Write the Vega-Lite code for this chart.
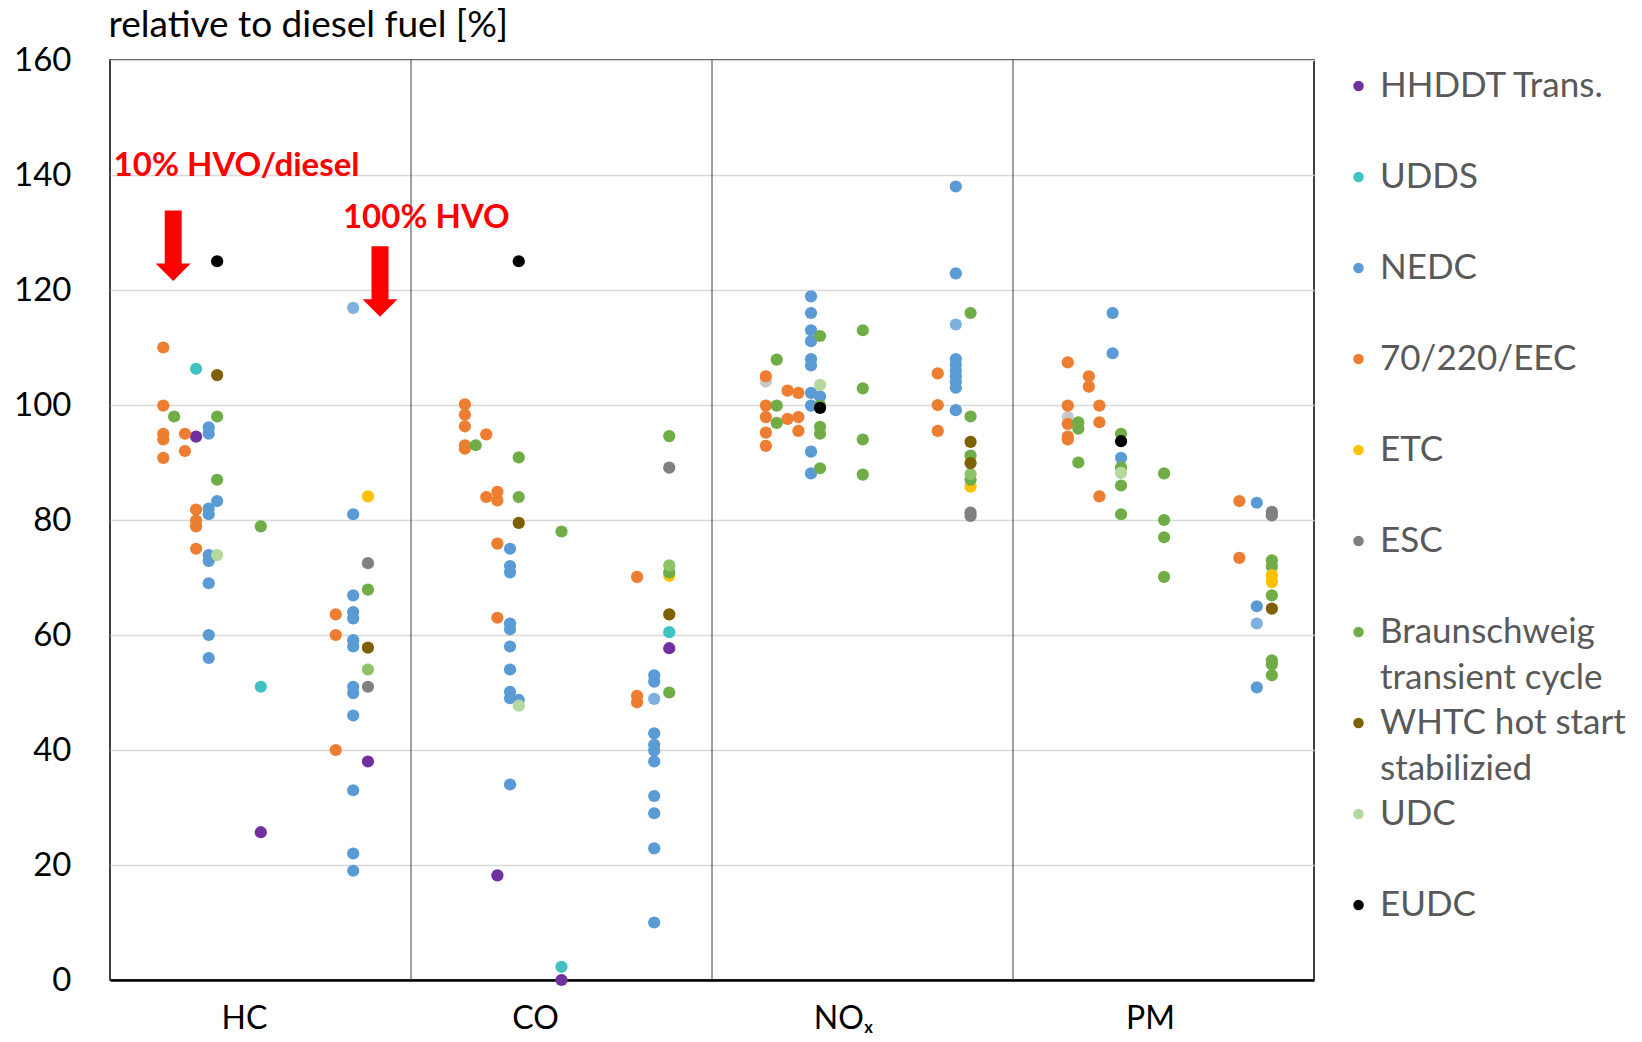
{
  "$schema": "https://vega.github.io/schema/vega-lite/v6.json",
  "autosize": {"type": "none"},
  "width": 1204,
  "height": 920,
  "padding": {"left": 110, "top": 60, "right": 328, "bottom": 62},
  "background": "white",
  "config": {
    "view": {"stroke": "black", "strokeWidth": 1.5},
    "font": "Lato"
  },
  "layer": [
    {
      "data": {"values": [{"x": 1}, {"x": 2}, {"x": 3}]},
      "mark": {"type": "rule", "color": "#404040", "strokeWidth": 1},
      "encoding": {"x": {"field": "x", "type": "quantitative"}}
    },
    {
      "data": {"values": [
        {"x": 2.179, "y": 104.1, "s": "other"},
        {"x": 3.182, "y": 97.9, "s": "other"},
        {"x": 0.286, "y": 94.5, "s": "HHDDT Trans."},
        {"x": 0.501, "y": 25.7, "s": "HHDDT Trans."},
        {"x": 0.857, "y": 38.0, "s": "HHDDT Trans."},
        {"x": 1.287, "y": 18.2, "s": "HHDDT Trans."},
        {"x": 1.5, "y": 0.0, "s": "HHDDT Trans."},
        {"x": 1.858, "y": 57.7, "s": "HHDDT Trans."},
        {"x": 0.286, "y": 106.3, "s": "UDDS"},
        {"x": 0.501, "y": 51.0, "s": "UDDS"},
        {"x": 1.5, "y": 2.3, "s": "UDDS"},
        {"x": 1.858, "y": 60.5, "s": "UDDS"},
        {"x": 0.328, "y": 96.1, "s": "NEDC"},
        {"x": 0.328, "y": 95.0, "s": "NEDC"},
        {"x": 0.328, "y": 82.0, "s": "NEDC"},
        {"x": 0.328, "y": 81.0, "s": "NEDC"},
        {"x": 0.328, "y": 73.9, "s": "NEDC"},
        {"x": 0.328, "y": 72.9, "s": "NEDC"},
        {"x": 0.328, "y": 69.0, "s": "NEDC"},
        {"x": 0.328, "y": 60.0, "s": "NEDC"},
        {"x": 0.328, "y": 56.0, "s": "NEDC"},
        {"x": 0.356, "y": 83.3, "s": "NEDC"},
        {"x": 0.808, "y": 81.0, "s": "NEDC"},
        {"x": 0.808, "y": 66.9, "s": "NEDC"},
        {"x": 0.808, "y": 64.0, "s": "NEDC"},
        {"x": 0.808, "y": 62.9, "s": "NEDC"},
        {"x": 0.808, "y": 59.1, "s": "NEDC"},
        {"x": 0.808, "y": 58.0, "s": "NEDC"},
        {"x": 0.808, "y": 51.0, "s": "NEDC"},
        {"x": 0.808, "y": 49.9, "s": "NEDC"},
        {"x": 0.808, "y": 46.0, "s": "NEDC"},
        {"x": 0.808, "y": 33.0, "s": "NEDC"},
        {"x": 0.808, "y": 22.0, "s": "NEDC"},
        {"x": 0.808, "y": 19.0, "s": "NEDC"},
        {"x": 1.329, "y": 75.0, "s": "NEDC"},
        {"x": 1.329, "y": 72.0, "s": "NEDC"},
        {"x": 1.329, "y": 70.9, "s": "NEDC"},
        {"x": 1.329, "y": 62.0, "s": "NEDC"},
        {"x": 1.329, "y": 61.0, "s": "NEDC"},
        {"x": 1.329, "y": 58.0, "s": "NEDC"},
        {"x": 1.329, "y": 54.0, "s": "NEDC"},
        {"x": 1.329, "y": 50.1, "s": "NEDC"},
        {"x": 1.329, "y": 49.0, "s": "NEDC"},
        {"x": 1.329, "y": 34.0, "s": "NEDC"},
        {"x": 1.358, "y": 48.7, "s": "NEDC"},
        {"x": 1.808, "y": 53.0, "s": "NEDC"},
        {"x": 1.808, "y": 51.9, "s": "NEDC"},
        {"x": 1.808, "y": 42.9, "s": "NEDC"},
        {"x": 1.808, "y": 40.9, "s": "NEDC"},
        {"x": 1.808, "y": 39.9, "s": "NEDC"},
        {"x": 1.808, "y": 38.0, "s": "NEDC"},
        {"x": 1.808, "y": 32.0, "s": "NEDC"},
        {"x": 1.808, "y": 29.0, "s": "NEDC"},
        {"x": 1.808, "y": 22.9, "s": "NEDC"},
        {"x": 1.808, "y": 10.0, "s": "NEDC"},
        {"x": 2.329, "y": 118.9, "s": "NEDC"},
        {"x": 2.329, "y": 116.0, "s": "NEDC"},
        {"x": 2.329, "y": 113.0, "s": "NEDC"},
        {"x": 2.329, "y": 111.1, "s": "NEDC"},
        {"x": 2.329, "y": 108.0, "s": "NEDC"},
        {"x": 2.329, "y": 106.9, "s": "NEDC"},
        {"x": 2.329, "y": 102.1, "s": "NEDC"},
        {"x": 2.329, "y": 99.9, "s": "NEDC"},
        {"x": 2.329, "y": 91.9, "s": "NEDC"},
        {"x": 2.329, "y": 88.1, "s": "NEDC"},
        {"x": 2.359, "y": 101.5, "s": "NEDC"},
        {"x": 2.81, "y": 138.0, "s": "NEDC"},
        {"x": 2.81, "y": 122.9, "s": "NEDC"},
        {"x": 2.81, "y": 108.0, "s": "NEDC"},
        {"x": 2.81, "y": 107.0, "s": "NEDC"},
        {"x": 2.81, "y": 106.0, "s": "NEDC"},
        {"x": 2.81, "y": 105.0, "s": "NEDC"},
        {"x": 2.81, "y": 104.0, "s": "NEDC"},
        {"x": 2.81, "y": 103.0, "s": "NEDC"},
        {"x": 2.81, "y": 99.1, "s": "NEDC"},
        {"x": 3.331, "y": 116.0, "s": "NEDC"},
        {"x": 3.331, "y": 109.0, "s": "NEDC"},
        {"x": 3.359, "y": 90.8, "s": "NEDC"},
        {"x": 3.81, "y": 83.0, "s": "NEDC"},
        {"x": 3.81, "y": 65.0, "s": "NEDC"},
        {"x": 3.81, "y": 50.9, "s": "NEDC"},
        {"x": 0.808, "y": 116.9, "s": "NEDC-2"},
        {"x": 1.808, "y": 48.9, "s": "NEDC-2"},
        {"x": 2.81, "y": 114.0, "s": "NEDC-2"},
        {"x": 3.81, "y": 62.0, "s": "NEDC-2"},
        {"x": 0.177, "y": 110.0, "s": "70/220/EEC"},
        {"x": 0.177, "y": 99.9, "s": "70/220/EEC"},
        {"x": 0.177, "y": 95.0, "s": "70/220/EEC"},
        {"x": 0.177, "y": 94.0, "s": "70/220/EEC"},
        {"x": 0.177, "y": 90.8, "s": "70/220/EEC"},
        {"x": 0.249, "y": 95.0, "s": "70/220/EEC"},
        {"x": 0.249, "y": 92.0, "s": "70/220/EEC"},
        {"x": 0.286, "y": 81.8, "s": "70/220/EEC"},
        {"x": 0.286, "y": 79.9, "s": "70/220/EEC"},
        {"x": 0.286, "y": 78.9, "s": "70/220/EEC"},
        {"x": 0.286, "y": 75.0, "s": "70/220/EEC"},
        {"x": 0.75, "y": 63.6, "s": "70/220/EEC"},
        {"x": 0.75, "y": 60.0, "s": "70/220/EEC"},
        {"x": 0.75, "y": 40.0, "s": "70/220/EEC"},
        {"x": 1.179, "y": 100.1, "s": "70/220/EEC"},
        {"x": 1.179, "y": 98.3, "s": "70/220/EEC"},
        {"x": 1.179, "y": 96.3, "s": "70/220/EEC"},
        {"x": 1.179, "y": 93.0, "s": "70/220/EEC"},
        {"x": 1.179, "y": 92.4, "s": "70/220/EEC"},
        {"x": 1.25, "y": 94.9, "s": "70/220/EEC"},
        {"x": 1.25, "y": 84.0, "s": "70/220/EEC"},
        {"x": 1.287, "y": 84.9, "s": "70/220/EEC"},
        {"x": 1.287, "y": 83.4, "s": "70/220/EEC"},
        {"x": 1.287, "y": 75.9, "s": "70/220/EEC"},
        {"x": 1.287, "y": 63.0, "s": "70/220/EEC"},
        {"x": 1.751, "y": 70.1, "s": "70/220/EEC"},
        {"x": 1.751, "y": 49.4, "s": "70/220/EEC"},
        {"x": 1.751, "y": 48.3, "s": "70/220/EEC"},
        {"x": 2.179, "y": 105.0, "s": "70/220/EEC"},
        {"x": 2.179, "y": 99.9, "s": "70/220/EEC"},
        {"x": 2.179, "y": 97.9, "s": "70/220/EEC"},
        {"x": 2.179, "y": 95.2, "s": "70/220/EEC"},
        {"x": 2.179, "y": 92.9, "s": "70/220/EEC"},
        {"x": 2.251, "y": 102.5, "s": "70/220/EEC"},
        {"x": 2.251, "y": 97.6, "s": "70/220/EEC"},
        {"x": 2.287, "y": 102.1, "s": "70/220/EEC"},
        {"x": 2.287, "y": 97.9, "s": "70/220/EEC"},
        {"x": 2.287, "y": 95.5, "s": "70/220/EEC"},
        {"x": 2.75, "y": 105.5, "s": "70/220/EEC"},
        {"x": 2.75, "y": 100.0, "s": "70/220/EEC"},
        {"x": 2.75, "y": 95.5, "s": "70/220/EEC"},
        {"x": 3.182, "y": 107.4, "s": "70/220/EEC"},
        {"x": 3.182, "y": 99.9, "s": "70/220/EEC"},
        {"x": 3.182, "y": 96.7, "s": "70/220/EEC"},
        {"x": 3.182, "y": 94.5, "s": "70/220/EEC"},
        {"x": 3.182, "y": 94.0, "s": "70/220/EEC"},
        {"x": 3.252, "y": 105.0, "s": "70/220/EEC"},
        {"x": 3.252, "y": 103.2, "s": "70/220/EEC"},
        {"x": 3.287, "y": 99.9, "s": "70/220/EEC"},
        {"x": 3.287, "y": 97.0, "s": "70/220/EEC"},
        {"x": 3.287, "y": 84.1, "s": "70/220/EEC"},
        {"x": 3.752, "y": 83.3, "s": "70/220/EEC"},
        {"x": 3.752, "y": 73.4, "s": "70/220/EEC"},
        {"x": 0.857, "y": 84.1, "s": "ETC"},
        {"x": 1.858, "y": 70.3, "s": "ETC"},
        {"x": 2.859, "y": 85.8, "s": "ETC"},
        {"x": 0.857, "y": 72.5, "s": "ESC"},
        {"x": 0.857, "y": 51.0, "s": "ESC"},
        {"x": 1.858, "y": 89.1, "s": "ESC"},
        {"x": 2.859, "y": 81.3, "s": "ESC"},
        {"x": 2.859, "y": 80.7, "s": "ESC"},
        {"x": 3.86, "y": 81.4, "s": "ESC"},
        {"x": 3.86, "y": 80.8, "s": "ESC"},
        {"x": 0.213, "y": 98.0, "s": "Braunschweig transient cycle"},
        {"x": 0.356, "y": 98.0, "s": "Braunschweig transient cycle"},
        {"x": 0.356, "y": 87.0, "s": "Braunschweig transient cycle"},
        {"x": 0.501, "y": 78.9, "s": "Braunschweig transient cycle"},
        {"x": 0.857, "y": 67.9, "s": "Braunschweig transient cycle"},
        {"x": 1.215, "y": 93.0, "s": "Braunschweig transient cycle"},
        {"x": 1.358, "y": 90.9, "s": "Braunschweig transient cycle"},
        {"x": 1.358, "y": 84.0, "s": "Braunschweig transient cycle"},
        {"x": 1.5, "y": 78.0, "s": "Braunschweig transient cycle"},
        {"x": 1.858, "y": 94.6, "s": "Braunschweig transient cycle"},
        {"x": 1.858, "y": 70.9, "s": "Braunschweig transient cycle"},
        {"x": 1.858, "y": 50.0, "s": "Braunschweig transient cycle"},
        {"x": 2.215, "y": 107.9, "s": "Braunschweig transient cycle"},
        {"x": 2.215, "y": 99.9, "s": "Braunschweig transient cycle"},
        {"x": 2.215, "y": 96.9, "s": "Braunschweig transient cycle"},
        {"x": 2.359, "y": 112.0, "s": "Braunschweig transient cycle"},
        {"x": 2.359, "y": 99.9, "s": "Braunschweig transient cycle"},
        {"x": 2.359, "y": 96.2, "s": "Braunschweig transient cycle"},
        {"x": 2.359, "y": 95.0, "s": "Braunschweig transient cycle"},
        {"x": 2.359, "y": 89.0, "s": "Braunschweig transient cycle"},
        {"x": 2.501, "y": 113.0, "s": "Braunschweig transient cycle"},
        {"x": 2.501, "y": 102.9, "s": "Braunschweig transient cycle"},
        {"x": 2.501, "y": 94.0, "s": "Braunschweig transient cycle"},
        {"x": 2.501, "y": 87.9, "s": "Braunschweig transient cycle"},
        {"x": 2.859, "y": 116.0, "s": "Braunschweig transient cycle"},
        {"x": 2.859, "y": 98.0, "s": "Braunschweig transient cycle"},
        {"x": 2.859, "y": 91.2, "s": "Braunschweig transient cycle"},
        {"x": 2.859, "y": 87.0, "s": "Braunschweig transient cycle"},
        {"x": 3.217, "y": 97.0, "s": "Braunschweig transient cycle"},
        {"x": 3.217, "y": 95.9, "s": "Braunschweig transient cycle"},
        {"x": 3.217, "y": 90.0, "s": "Braunschweig transient cycle"},
        {"x": 3.359, "y": 95.0, "s": "Braunschweig transient cycle"},
        {"x": 3.359, "y": 89.1, "s": "Braunschweig transient cycle"},
        {"x": 3.359, "y": 86.0, "s": "Braunschweig transient cycle"},
        {"x": 3.359, "y": 81.0, "s": "Braunschweig transient cycle"},
        {"x": 3.502, "y": 88.1, "s": "Braunschweig transient cycle"},
        {"x": 3.502, "y": 80.0, "s": "Braunschweig transient cycle"},
        {"x": 3.502, "y": 77.0, "s": "Braunschweig transient cycle"},
        {"x": 3.502, "y": 70.1, "s": "Braunschweig transient cycle"},
        {"x": 3.86, "y": 73.0, "s": "Braunschweig transient cycle"},
        {"x": 3.86, "y": 71.9, "s": "Braunschweig transient cycle"},
        {"x": 3.86, "y": 66.9, "s": "Braunschweig transient cycle"},
        {"x": 3.86, "y": 55.6, "s": "Braunschweig transient cycle"},
        {"x": 3.86, "y": 54.9, "s": "Braunschweig transient cycle"},
        {"x": 3.86, "y": 53.0, "s": "Braunschweig transient cycle"},
        {"x": 3.86, "y": 70.4, "s": "ETC"},
        {"x": 3.86, "y": 69.2, "s": "ETC"},
        {"x": 0.857, "y": 54.0, "s": "Braunschweig-2"},
        {"x": 1.858, "y": 72.1, "s": "Braunschweig-2"},
        {"x": 2.859, "y": 88.0, "s": "Braunschweig-2"},
        {"x": 0.356, "y": 105.2, "s": "WHTC hot start stabilizied"},
        {"x": 0.857, "y": 57.8, "s": "WHTC hot start stabilizied"},
        {"x": 1.358, "y": 79.5, "s": "WHTC hot start stabilizied"},
        {"x": 1.858, "y": 63.6, "s": "WHTC hot start stabilizied"},
        {"x": 2.859, "y": 93.6, "s": "WHTC hot start stabilizied"},
        {"x": 2.859, "y": 89.9, "s": "WHTC hot start stabilizied"},
        {"x": 3.86, "y": 64.6, "s": "WHTC hot start stabilizied"},
        {"x": 0.356, "y": 73.9, "s": "UDC"},
        {"x": 1.358, "y": 47.7, "s": "UDC"},
        {"x": 2.359, "y": 103.5, "s": "UDC"},
        {"x": 3.359, "y": 88.2, "s": "UDC"},
        {"x": 0.356, "y": 125.0, "s": "EUDC"},
        {"x": 1.358, "y": 125.0, "s": "EUDC"},
        {"x": 2.359, "y": 99.5, "s": "EUDC"},
        {"x": 3.359, "y": 93.7, "s": "EUDC"}
      ]},
      "mark": {"type": "point", "filled": true, "opacity": 1, "size": 150, "strokeWidth": 0},
      "encoding": {
        "x": {
          "field": "x", "type": "quantitative",
          "scale": {"domain": [0, 4], "nice": false, "zero": false},
          "axis": {
            "values": [0.445, 1.412, 2.435, 3.455],
            "labelExpr": "datum.value < 1 ? 'HC' : datum.value < 2 ? 'CO' : datum.value < 3 ? 'NOₓ' : 'PM'",
            "grid": false, "ticks": false, "tickSize": 0,
            "domain": true, "domainColor": "black", "domainWidth": 2.5,
            "title": null,
            "labelFont": "Lato", "labelFontSize": 32, "labelColor": "black",
            "labelPadding": 23, "labelFlush": false, "labelOverlap": false
          }
        },
        "y": {
          "field": "y", "type": "quantitative",
          "scale": {"domain": [0, 160], "nice": false},
          "axis": {
            "values": [0, 20, 40, 60, 80, 100, 120, 140, 160],
            "grid": true, "gridColor": "#d9d9d9", "gridWidth": 1.5,
            "ticks": false, "tickSize": 0, "domain": false,
            "labelFont": "Lato", "labelFontSize": 33, "labelColor": "black",
            "labelPadding": 39,
            "title": "relative to diesel fuel [%]",
            "titleAngle": 0, "titleAlign": "left", "titleBaseline": "alphabetic",
            "titleX": -2, "titleY": -24,
            "titleFont": "Lato", "titleFontSize": 37, "titleFontWeight": "normal", "titleColor": "black"
          }
        },
        "color": {
          "field": "s", "type": "nominal",
          "scale": {
            "domain": ["HHDDT Trans.", "UDDS", "NEDC", "70/220/EEC", "ETC", "ESC", "Braunschweig transient cycle", "WHTC hot start stabilizied", "UDC", "EUDC", "NEDC-2", "Braunschweig-2", "other"],
            "range": ["#7030a0", "#40c2c2", "#5b9bd5", "#ed7d31", "#ffc000", "#808080", "#70ad47", "#7f6000", "#b5d99c", "#000000", "#7fb1e0", "#8dc26b", "#c8c8c8"]
          },
          "legend": {
            "values": ["HHDDT Trans.", "UDDS", "NEDC", "70/220/EEC", "ETC", "ESC", "Braunschweig transient cycle", "WHTC hot start stabilizied", "UDC", "EUDC"],
            "orient": "none", "legendX": 1231, "legendY": 8.5,
            "title": null, "padding": 0,
            "symbolType": "circle", "symbolSize": 110, "symbolStrokeWidth": 0, "symbolOpacity": 1,
            "labelFont": "Lato", "labelFontSize": 35, "labelColor": "#595959",
            "labelOffset": 4, "labelLimit": 400, "labelBaseline": "top",
            "rowPadding": 10,
            "labelExpr": "datum.label == 'Braunschweig transient cycle' ? ['Braunschweig', 'transient cycle'] : datum.label == 'WHTC hot start stabilizied' ? ['WHTC hot start', 'stabilizied'] : [datum.label, ' ']",
            "encode": {"labels": {"update": {"dy": {"value": -17.5}, "lineHeight": {"value": 46}}}}
          }
        }
      }
    },
    {
      "mark": {"type": "rule", "color": "#ff0000", "strokeWidth": 2},
      "encoding": {"y": {"datum": 100.3}}
    },
    {
      "data": {"values": [
        {"x": 0.012, "y": 141.6, "t": "10% HVO/diesel"},
        {"x": 0.774, "y": 132.6, "t": "100% HVO"}
      ]},
      "mark": {"type": "text", "align": "left", "baseline": "middle", "font": "Lato", "fontSize": 33, "fontWeight": "bold", "color": "#ff0000"},
      "encoding": {
        "x": {"field": "x", "type": "quantitative"},
        "y": {"field": "y", "type": "quantitative"},
        "text": {"field": "t"}
      }
    },
    {
      "data": {"values": [
        {"x": 0.21, "y": 124.6},
        {"x": 0.897, "y": 118.4}
      ]},
      "mark": {"type": "point", "shape": "M-0.486,-3.03L0.486,-3.03L0.486,0L1,0L0,1L-1,0L-0.486,0Z", "size": 1225, "filled": true, "color": "#ff0000", "opacity": 1, "strokeWidth": 0},
      "encoding": {
        "x": {"field": "x", "type": "quantitative"},
        "y": {"field": "y", "type": "quantitative"}
      }
    }
  ]
}
